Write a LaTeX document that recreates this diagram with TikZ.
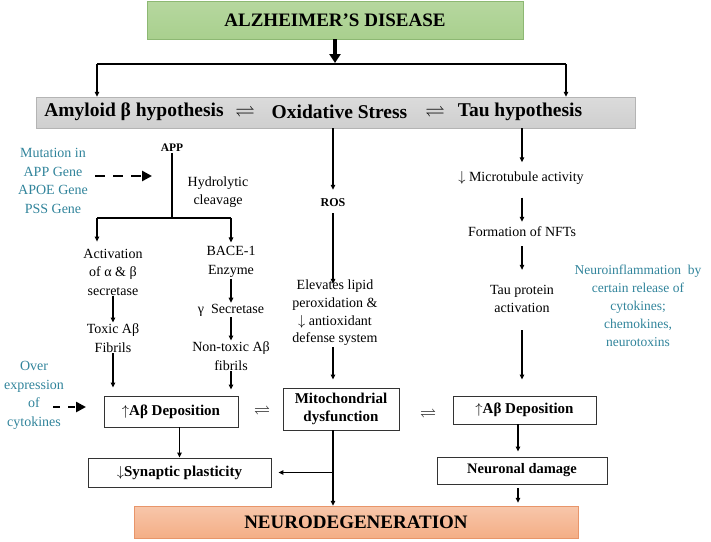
\documentclass[tikz,border=0pt]{standalone}
\usepackage{fontspec}
\setmainfont{Liberation Serif}
\usepackage{amsmath, amssymb}
\usepackage{xcolor}
\usepackage{tikz}
\usetikzlibrary{arrows.meta, positioning, calc}

\definecolor{adgreen}{HTML}{A9D08E}
\definecolor{adgreenline}{HTML}{8DB873}
\definecolor{barfill}{HTML}{CFCFCF}
\definecolor{barline}{HTML}{B4B4B4}
\definecolor{neurofill}{HTML}{F4AE86}
\definecolor{neuroline}{HTML}{E8956A}
\definecolor{causeblue}{HTML}{31849B}

\begin{document}
\begin{tikzpicture}[
    x=1pt, y=-1pt,
    % Node styles
    diseasebox/.style={rectangle, draw=adgreenline, top color=adgreen!85, bottom color=adgreen, minimum width=376pt, minimum height=38pt, font=\fontsize{19}{22}\selectfont\bfseries},
    hypbar/.style={rectangle, draw=barline, top color=barfill!75, bottom color=barfill, minimum width=599pt, minimum height=31pt},
    hyptext/.style={inner sep=0pt, font=\fontsize{19.5}{22}\selectfont\bfseries},
    txt/.style={align=center, inner sep=1pt, font=\fontsize{14}{18.5}\selectfont},
    cause/.style={txt, text=causeblue},
    keyterm/.style={inner sep=1pt, font=\fontsize{12}{14}\selectfont\bfseries},
    result/.style={rectangle, draw=black!80, line width=0.9pt, fill=white, align=center, inner sep=2pt, font=\fontsize{15}{18}\selectfont\bfseries},
    outcome/.style={rectangle, draw=neuroline, top color=neurofill!70, bottom color=neurofill, minimum width=444pt, minimum height=32pt, font=\fontsize{19}{22}\selectfont\bfseries},
    % Arrow styles
    flow/.style={-{Triangle[length=5pt, width=4.5pt]}, line width=1.1pt},
    bigflow/.style={-{Triangle[length=9pt, width=11pt]}, line width=3.5pt},
    genelink/.style={-{Triangle[length=10pt, width=10pt]}, line width=2.6pt},
]
\useasboundingbox (0,0) rectangle (711,541);

% Disease and the three hypotheses
\node[diseasebox] (ad) at (335,20) {ALZHEIMER'S DISEASE};
\node[hypbar] (bar) at (335.5,112.5) {};
\node[hyptext] (amyloid) at (134,112) {Amyloid β hypothesis};
\node[hyptext] (eqa) at (245,112) {$\rightleftharpoons$};
\node[hyptext] (oxid) at (339.5,112) {Oxidative Stress};
\node[hyptext] (eqb) at (435,112) {$\rightleftharpoons$};
\node[hyptext] (tau) at (520,112) {Tau hypothesis};

\coordinate (fork) at (335,64);
\coordinate (forkl) at (97,64);
\coordinate (forkr) at (566,64);

% Amyloid branch
\node[cause] (mutation) at (53,181) {Mutation in\\APP Gene\\APOE Gene\\PSS Gene};
\node[keyterm, font=\fontsize{11.5}{14}\selectfont\bfseries] (app) at (172,148) {APP};
\coordinate (appin) at (152,176);
\node[txt] (hydro) at (218,192) {Hydrolytic\\cleavage};
\coordinate (split) at (172,218);
\node[txt] (activ) at (113,272) {Activation\\of α \& β\\secretase};
\node[txt] (toxic) at (113,338) {Toxic Aβ\\Fibrils};
\node[txt] (bace) at (231,262) {BACE-1\\Enzyme};
\node[txt] (gamma) at (231,310) {γ\enspace Secretase};
\node[txt] (nontoxic) at (231,356) {Non-toxic Aβ\\fibrils};
\node[result, minimum width=134pt, minimum height=31pt] (dep1) at (171,411.5) {$\uparrow$Aβ Deposition};
\node[result, minimum width=183pt, minimum height=29pt] (syn) at (179.5,472.5) {$\downarrow$Synaptic plasticity};
\node[cause] (overexp) at (34,395.5) {Over\\expression\\of\\cytokines};
\coordinate (cytoin) at (86,407);

% Oxidative stress branch
\node[keyterm] (ros) at (333,203) {ROS};
\node[txt, font=\fontsize{14}{17.7}\selectfont] (lipid) at (335,313) {Elevates lipid\\peroxidation \&\\$\downarrow$ antioxidant\\defense system};
\node[result, minimum width=116pt, minimum height=42pt] (mito) at (341,409) {Mitochondrial\\dysfunction};
\node[hyptext, font=\fontsize{16}{18}\selectfont] (eqc) at (262,410) {$\rightleftharpoons$};
\node[hyptext, font=\fontsize{16}{18}\selectfont] (eqd) at (428,413) {$\rightleftharpoons$};

% Tau branch
\node[txt] (micro) at (521,178) {$\downarrow$ Microtubule activity};
\node[txt] (nft) at (522,232) {Formation of NFTs};
\node[txt] (taup) at (522,299) {Tau protein\\activation};
\node[cause, font=\fontsize{13.5}{18}\selectfont] (inflam) at (638,306) {Neuroinflammation\enspace by\\certain release of\\cytokines;\\chemokines,\\neurotoxins};
\node[result, minimum width=143pt, minimum height=28pt] (dep2) at (524.5,410) {$\uparrow$Aβ Deposition};
\node[result, minimum width=170pt, minimum height=27pt, font=\fontsize{14.5}{17}\selectfont\bfseries] (damage) at (522,470.5) {Neuronal damage};

% Outcome
\node[outcome] (neuro) at (356,522) {NEURODEGENERATION};

% Connections from the disease box
\draw[bigflow, shorten >=1pt] (ad.south) -- (fork);
\draw[line width=1.1pt] (forkl) -- (forkr);
\draw[flow] (forkl) -- (forkl |- bar.north);
\draw[flow] (forkr) -- (forkr |- bar.north);

% Amyloid connections
\draw[genelink, dash pattern=on 10pt off 8pt] ([xshift=6pt, yshift=5pt]mutation.east) -- (appin);
\draw[line width=1.1pt] (app.south) -- (split);
\draw[line width=1.1pt] (split -| activ.north) ++(-16,0) -- (split -| bace.north);
\draw[flow] ([xshift=-16pt]split -| activ.north) -- ([xshift=-16pt, yshift=6pt]activ.north);
\draw[flow] (split -| bace.north) -- ([yshift=3pt]bace.north);
\draw[flow] (activ) -- (toxic);
\draw[flow] (bace) -- (gamma);
\draw[flow] (gamma) -- (nontoxic);
\draw[flow, shorten >=8pt] (toxic) -- (toxic |- dep1.north);
\draw[flow, shorten >=6pt] (nontoxic) -- (nontoxic |- dep1.north);
\draw[flow] (syn.north |- dep1.south) -- (syn.north);
\draw[genelink, dash pattern=on 7pt off 8pt] ([xshift=19pt, yshift=-11.5pt]overexp.center) -- (cytoin);

% Oxidative stress connections
\draw[flow, shorten >=8pt] (bar.south -| ros) -- (ros.north);
\draw[flow, shorten <=5pt, shorten >=-5pt] (ros.south) -- (ros |- lipid.north);
\draw[flow, shorten >=8pt] (ros |- lipid.south) -- (ros |- mito.north);
\draw[flow] (ros |- mito.south) -- (ros |- neuro.north);
\coordinate (synjoin) at (ros |- syn.east);
\draw[flow, shorten >=7pt] (synjoin) -- (syn.east);

% Tau connections
\draw[flow, shorten >=8pt] (bar.south -| nft) -- (nft |- micro.north);
\draw[flow, shorten <=12pt, shorten >=4pt] (nft |- micro.south) -- (nft.north);
\draw[flow, shorten <=8pt, shorten >=14pt] (nft.south) -- (taup.north);
\draw[flow, shorten <=16pt, shorten >=16pt] (taup.south) -- (taup |- dep2.north);
\draw[flow, shorten >=5pt] ([xshift=-4pt]damage.north |- dep2.south) -- ([xshift=-4pt]damage.north);
\draw[flow, shorten <=4pt, shorten >=3pt] ([xshift=-4pt]damage.south) -- ([xshift=-4pt]damage.south |- neuro.north);

\end{tikzpicture}
\end{document}
